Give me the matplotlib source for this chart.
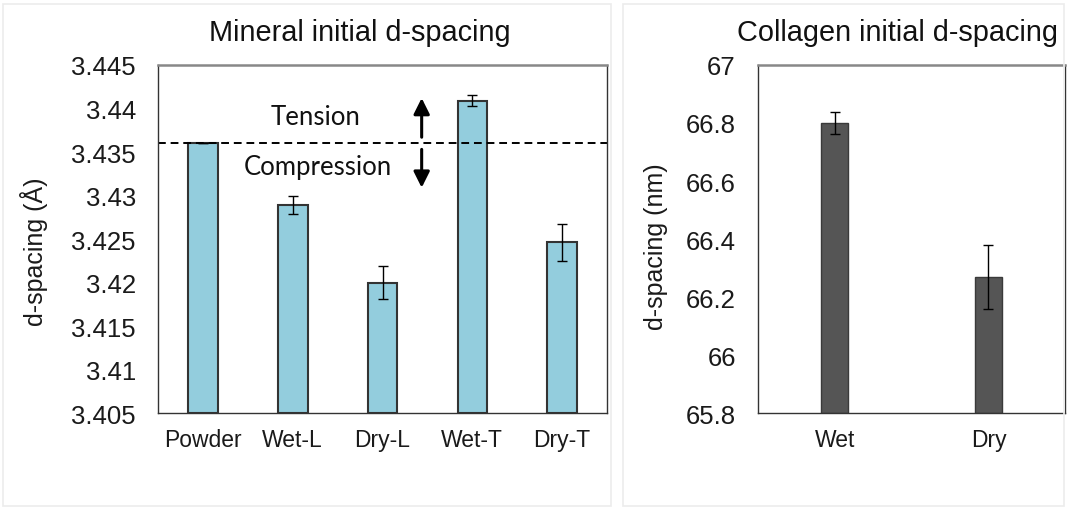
import matplotlib.pyplot as plt
import numpy as np
from matplotlib.patches import Rectangle

# mineral (apatite) d-spacing, angstrom
min_labels = ['Powder', 'Wet-L', 'Dry-L', 'Wet-T', 'Dry-T']
min_vals = [3.4360, 3.4289, 3.4200, 3.4409, 3.4246]
min_err = [0.0, 0.0010, 0.0019, 0.0006, 0.0021]
powder_ref = 3.436

# collagen d-spacing, nm
col_labels = ['Wet', 'Dry']
col_vals = [66.80, 66.27]
col_err = [0.037, 0.11]

plt.rcParams['font.family'] = ['Liberation Sans', 'DejaVu Sans']

fig = plt.figure(figsize=(10.67, 5.10), dpi=100)

# faint panel frames like the pasted images
for x0, w in [(0.003, 0.57), (0.584, 0.413)]:
    fig.add_artist(Rectangle((x0, 0.006), w, 0.985, transform=fig.transFigure,
                             fill=False, edgecolor='#ececec', lw=1.2))

# --- mineral panel ---
ax1 = fig.add_axes([0.1481, 0.1882, 0.4208, 0.6824])
x1 = np.arange(len(min_labels))
ax1.bar(x1, np.array(min_vals) - 3.405, bottom=3.405, width=0.33,
        color='#93cddd', edgecolor='#333333', linewidth=1.5)
ax1.errorbar(x1, min_vals, yerr=min_err, fmt='none', ecolor='black',
             elinewidth=1, capsize=3.8, capthick=1)
ax1.axhline(powder_ref, color='black', ls=(0, (4, 2.5)), lw=1.4)
ax1.set_xlim(-0.5, len(min_labels) - 0.5)
ax1.set_ylim(3.405, 3.445)
ax1.set_yticks(np.arange(3.405, 3.4451, 0.005))
ax1.set_yticklabels(['3.405', '3.41', '3.415', '3.42', '3.425',
                     '3.43', '3.435', '3.44', '3.445'])
ax1.set_xticks(x1)
ax1.set_xticklabels(min_labels)

ax1.text(1.25, 3.4391, 'Tension', family='Lato', fontsize=18.5,
         ha='center', va='center', color='#111111')
ax1.text(1.28, 3.4333, 'Compression', family='Lato', fontsize=18.5,
         ha='center', va='center', color='#111111')
ax1.annotate('', xy=(2.436, 3.4412), xytext=(2.436, 3.4367),
             arrowprops=dict(arrowstyle='-|>', color='black', lw=2.2,
                             mutation_scale=24, shrinkA=0, shrinkB=0))
ax1.annotate('', xy=(2.436, 3.4309), xytext=(2.436, 3.4353),
             arrowprops=dict(arrowstyle='-|>', color='black', lw=2.2,
                             mutation_scale=24, shrinkA=0, shrinkB=0))

# --- collagen panel ---
ax2 = fig.add_axes([0.7104, 0.1882, 0.2880, 0.6824])
x2 = np.arange(len(col_labels))
ax2.bar(x2, np.array(col_vals) - 65.8, bottom=65.8, width=0.175,
        color='#555555', edgecolor='#3a3a3a', linewidth=1)
ax2.errorbar(x2, col_vals, yerr=col_err, fmt='none', ecolor='black',
             elinewidth=1, capsize=3.8, capthick=1)
ax2.set_xlim(-0.5, len(col_labels) - 0.5)
ax2.set_ylim(65.8, 67.0)
ax2.set_yticks(np.arange(65.8, 67.01, 0.2))
ax2.set_yticklabels(['65.8', '66', '66.2', '66.4', '66.6', '66.8', '67'])
ax2.set_xticks(x2)
ax2.set_xticklabels(col_labels)

for ax in (ax1, ax2):
    ax.tick_params(axis='y', length=0, pad=16, labelsize=18.5, colors='#1a1a1a')
    ax.tick_params(axis='x', length=0, pad=11, labelsize=16.5, colors='#1a1a1a')
    for s in ['left', 'bottom', 'right']:
        ax.spines[s].set_color('#333333')
        ax.spines[s].set_linewidth(1)
    ax.spines['top'].set_color('#888888')
    ax.spines['top'].set_linewidth(1.8)

fig.text(0.3374, 0.935, 'Mineral initial d-spacing', fontsize=20.8,
         ha='center', va='center', color='#111111')
fig.text(0.8407, 0.935, 'Collagen initial d-spacing', fontsize=20.8,
         ha='center', va='center', color='#111111')
fig.text(0.032, 0.506, 'd-spacing (Å)', fontsize=18, rotation=90,
         ha='center', va='center', color='#1a1a1a')
fig.text(0.615, 0.516, 'd-spacing (nm)', fontsize=18, rotation=90,
         ha='center', va='center', color='#1a1a1a')

fig.savefig('out.png', dpi=100)
